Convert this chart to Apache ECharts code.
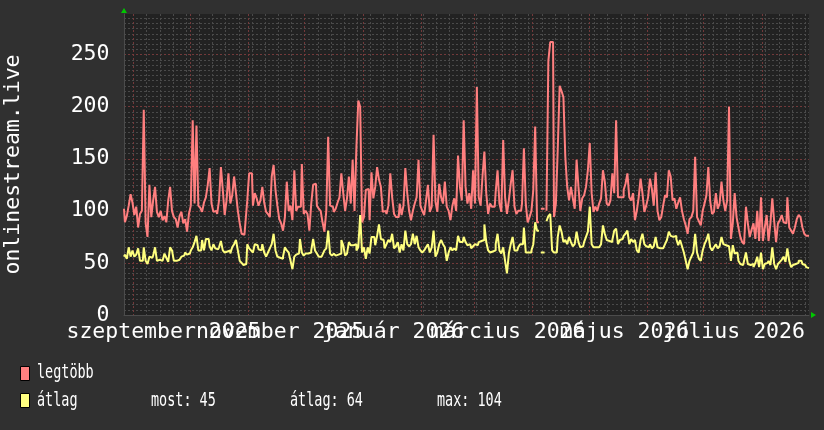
<!DOCTYPE html>
<html>
<head>
<meta charset="utf-8">
<script src="https://cdn.jsdelivr.net/npm/echarts@6/dist/echarts.min.js"></script>
<style>
html,body{margin:0;padding:0;background:#303030;}
#chart{width:824px;height:430px;}
</style>
</head>
<body>
<div id="chart"></div>
<script>
// ---- data ----
const START_DATE = [2025, 7, 27];   // 2025-08-27 (first day shown)
const DAY_COUNT = 365;

// daily maximum ("legtöbb")
const legtobb = [
102, 89, 95,105,116,108, 96,104, 84, 97,
100,197, 88, 75,125, 94,110,123, 99, 94,
100, 91, 95, 89,110,123,100, 94, 92, 84,
 95, 99, 88, 92, 80, 97,105,187,107,182,
105,103, 99,108,113,125,141,107, 99,100,
 97,110,142,120, 96,110,136,107,115,133,
117,100, 88, 78, 77, 88,110,136,136,105,
117,112,105,110,123,108, 99, 97, 94,133,
144,120,105, 92, 88, 81, 94,128,100,105,
 91,139,100,104,104,145, 97,100, 97, 81,
107,125,126,105,102,100, 89, 80,100,171,
105,104, 99,102,108,113,136,117,100,112,
133,107,149,100,161,206,200, 89, 94,120,
121, 91,137,112,123,142,130,123, 99,100,
 97,105,136,113, 97, 94, 94,107, 96,105,
141,117,100, 91,100,107,113,149,105,100,
 96,110,125, 99,104,173,109, 99,126,113,
107,128,104,100, 91,105,112,100,153,123,
110,187,123,107,117,102,139,107,219,113,
105,133,157,117, 97,107,104,104,118,139,
107, 99,168,113, 97,110,126,139,104, 97,
100,100,107,160,107, 89, 94,100,120,181,
 89,null,102,102,null,100,244,262,262, 94,
107,160,220,215,209,152,123,110,123,112,
102,149,123,100,112,115,123,139,165,117,
 99,104,100,107,112,139,128,107,105,110,
136,117,187,113,113,113,120,126,136,113,
110,117, 91,100,113,131,117, 99,105,113,
131,121,105,137,100, 91, 94,105,115,113,
139,133,110,112,102,108,113,100, 92, 86,
 78, 92, 94,100,152, 94, 90, 86,100,107,
115,142,109, 97, 99,117,102,107,128,110,
100,110,200, 73, 88,117, 94, 84, 75, 70,
 68,104, 88, 75, 82, 88, 73,100, 71,113,
 71, 84, 96, 71, 88,112, 90, 70, 88, 91,
 96, 89, 88,113, 84, 81, 78, 84, 92, 96,
 94, 84, 78, 76, 76
];

// daily average ("átlag")
const atlag = [
56,58,54,65,56,62,56,58,64,52,
52,65,52,49,56,55,57,65,52,53,
52,51,59,55,51,65,62,52,52,53,
52,56,57,60,58,59,62,65,70,76,
62,62,72,62,73,73,66,62,68,64,
63,65,71,62,60,61,62,59,65,68,
72,62,52,50,48,49,68,64,62,60,
68,67,63,62,68,60,56,60,64,68,
78,62,56,55,54,56,65,62,60,52,
44,56,58,59,73,60,57,59,59,60,
62,73,62,59,56,56,58,62,64,81,
59,57,59,57,58,59,72,67,57,59,
70,67,67,68,62,65,96,60,65,54,
65,59,75,75,67,76,87,73,72,64,
68,72,70,78,64,66,70,60,68,62,
81,68,66,68,78,68,76,65,62,60,
62,65,68,60,65,81,56,60,68,72,
68,65,52,60,65,62,64,62,76,70,
70,75,70,67,68,64,66,68,67,70,
71,72,87,70,62,60,61,62,68,78,
62,59,65,52,40,59,68,75,62,62,
65,68,68,84,60,60,60,62,68,89,
81,null,60,60,null,90,95,97,62,60,
60,75,86,80,70,72,68,75,70,66,
68,80,70,65,66,70,75,80,104,68,
65,65,65,66,68,86,78,72,71,70,
72,81,83,68,72,73,76,78,81,68,
73,70,72,62,60,72,78,68,66,65,
68,64,66,75,65,64,64,65,68,72,
80,76,75,76,73,67,72,66,60,52,
44,52,56,60,78,60,54,52,62,68,
72,78,65,62,65,68,64,66,75,68,
67,66,65,52,67,59,60,52,49,48,
52,60,49,48,49,46,50,56,46,60,
44,49,50,52,48,65,49,44,49,51,
53,56,51,64,52,46,48,49,50,52,
52,49,48,46,45
];

// x labels (placed where the reference centres them, around mid-month)
const monthLabelDates = ['2025-09-17','2025-11-18','2026-01-17','2026-03-19','2026-05-20','2026-07-17'];
const monthLabelTexts = ['szeptember 2025','november 2025','január 2026','március 2026','május 2026','július 2026'];
// y labels
const yTickValues = [0, 50, 100, 150, 200, 250];
const Y_MAX = 289;
// legend
const seriesNames = ['legtöbb', 'átlag'];
const seriesColors = ['#ff7f7f', '#ffff7f'];
const statNames = ['most', 'átlag', 'max'];
const statValues = [45, 64, 104];
const yTitle = 'onlinestream.live';

// ---- build ----
const days = [];
for (let i = 0; i < DAY_COUNT; i++) {
  const d = new Date(Date.UTC(START_DATE[0], START_DATE[1], START_DATE[2] + i));
  days.push(d.toISOString().slice(0, 10));
}
const labelMap = {};
monthLabelDates.forEach((d, i) => { labelMap[d] = monthLabelTexts[i]; });
const isMonthStart = v => v.slice(8) === '01';
const isMonday = v => new Date(v + 'T00:00:00Z').getUTCDay() === 1;

const GRID = { left: 124, right: 15, top: 14, bottom: 115 };
const W = 824, H = 430;
const FONT = 'DejaVu Sans Mono';
const MAJOR = '#73393a';
const MINOR = '#4a4a4a';
const ARROW = '#00c800';

const minorColors = [MAJOR];
for (let i = 0; i < 9; i++) minorColors.push(MINOR);

const plotRight = W - GRID.right;
const plotBottom = H - GRID.bottom;

const legendFont = '19.5px "' + FONT + '"';
const LSX = 0.69;
function legendText(txt, x, y) {
  return { type: 'text', x: x, y: y, scaleX: LSX, scaleY: 1, silent: true,
    style: { text: txt, font: legendFont, fill: '#ffffff', textAlign: 'left', textVerticalAlign: 'middle' } };
}

const graphics = [
  { type: 'polygon', silent: true, shape: { points: [[GRID.left - 3, GRID.top - 1], [GRID.left + 3, GRID.top - 1], [GRID.left, GRID.top - 6]] }, style: { fill: ARROW } },
  { type: 'polygon', silent: true, shape: { points: [[plotRight + 2, plotBottom - 3], [plotRight + 2, plotBottom + 3], [plotRight + 7, plotBottom]] }, style: { fill: ARROW } },
  { type: 'rect', silent: true, shape: { x: 20.5, y: 366.5, width: 9, height: 14 }, style: { fill: '#ff8080', stroke: '#000', lineWidth: 1 } },
  { type: 'rect', silent: true, shape: { x: 20.5, y: 393.5, width: 9, height: 14 }, style: { fill: '#ffff80', stroke: '#000', lineWidth: 1 } },
  legendText(seriesNames[0], 37, 373),
  legendText(seriesNames[1], 37, 401),
  legendText(statNames[0] + ': ' + statValues[0], 151, 401),
  legendText(statNames[1] + ': ' + statValues[1], 290, 401),
  legendText(statNames[2] + ': ' + statValues[2], 437, 401)
];

const chart = echarts.init(document.getElementById('chart'), null, { renderer: 'canvas', width: W, height: H });
chart.setOption({
  backgroundColor: '#303030',
  animation: false,
  grid: { left: GRID.left, right: GRID.right, top: GRID.top, bottom: GRID.bottom, show: true, backgroundColor: '#222222', borderWidth: 0,
          containLabel: false, outerBoundsMode: 'none' },
  legend: { show: false, data: seriesNames },
  xAxis: [
    {
      type: 'category', data: days, boundaryGap: false, position: 'bottom',
      axisLine: { show: true, lineStyle: { color: '#4c4c4c', width: 1 } },
      axisTick: { show: false },
      axisLabel: {
        // first and last categories carry blank labels so that the min/max-label
        // overlap check never removes one of the month labels
        interval: (i, v) => i === 0 || i === DAY_COUNT - 1 || labelMap[v] !== undefined,
        formatter: v => labelMap[v] || '',
        color: '#ffffff', fontFamily: FONT, fontSize: 21.5, margin: 6,
        showMinLabel: false, showMaxLabel: false, hideOverlap: false
      },
      splitLine: { show: true, interval: (i, v) => isMonthStart(v), lineStyle: { color: MAJOR, type: [2, 2], width: 1 } }
    },
    {
      type: 'category', data: days, boundaryGap: false, position: 'top',
      axisLine: { show: false }, axisTick: { show: false }, axisLabel: { show: false },
      splitLine: { show: true, interval: (i, v) => isMonday(v) && !isMonthStart(v), lineStyle: { color: MINOR, type: [2, 2], width: 1 } }
    }
  ],
  yAxis: {
    type: 'value', min: 0, max: Y_MAX, interval: 5,
    name: yTitle, nameLocation: 'middle', nameGap: 100,
    nameTextStyle: { color: '#ffffff', fontFamily: FONT, fontSize: 21.5 },
    axisLine: { show: true, lineStyle: { color: '#4c4c4c', width: 1 } },
    axisTick: { show: false },
    axisLabel: {
      formatter: v => (yTickValues.indexOf(v) >= 0 ? String(v) : ''),
      color: '#ffffff', fontFamily: FONT, fontSize: 21.5, margin: 14.5, padding: [3, 0, 0, 0]
    },
    splitLine: { show: true, showMaxLine: false, lineStyle: { color: minorColors, type: [2, 2], width: 1 } }
  },
  series: [
    { name: seriesNames[0], type: 'line', data: legtobb, xAxisIndex: 0, symbol: 'none', showSymbol: false,
      smooth: false, step: 'middle', connectNulls: false,
      lineStyle: { color: seriesColors[0], width: 2 }, itemStyle: { color: seriesColors[0] }, z: 3 },
    { name: seriesNames[1], type: 'line', data: atlag, xAxisIndex: 0, symbol: 'none', showSymbol: false,
      smooth: false, step: 'middle', connectNulls: false,
      lineStyle: { color: seriesColors[1], width: 2 }, itemStyle: { color: seriesColors[1] }, z: 4 }
  ],
  graphic: graphics
});
</script>
</body>
</html>
